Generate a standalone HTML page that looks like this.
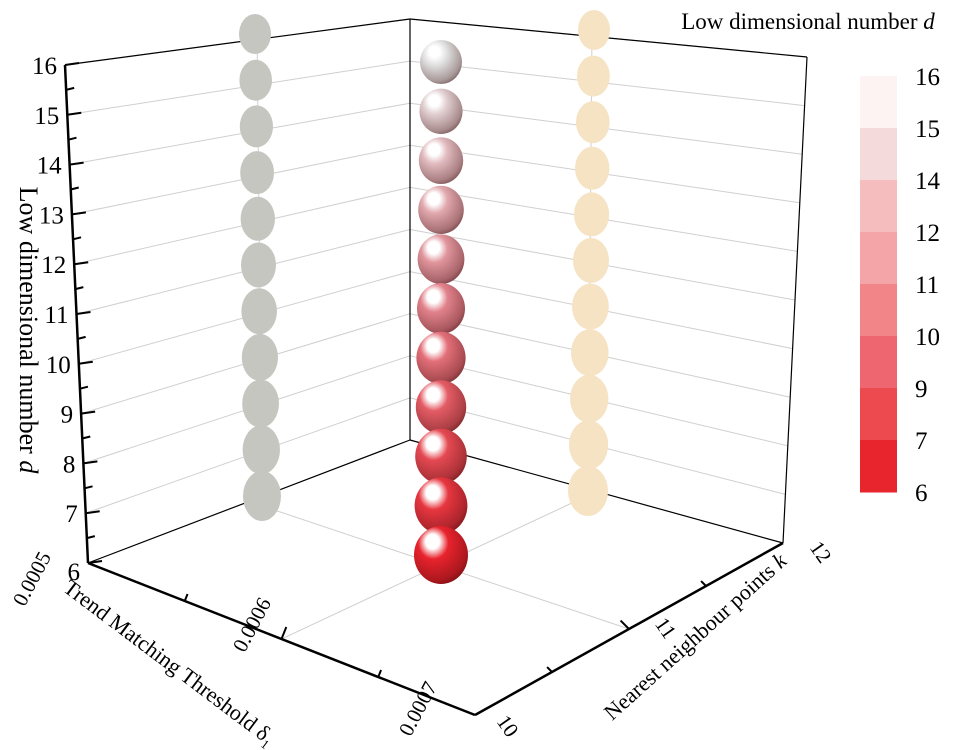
<!DOCTYPE html>
<html><head><meta charset="utf-8">
<style>
html,body{margin:0;padding:0;background:#fff;}
svg{display:block;}
svg text{font-family:"Liberation Serif",serif;}
</style></head>
<body>
<svg id="chart" width="975" height="750" viewBox="0 0 975 750" xmlns="http://www.w3.org/2000/svg" font-family="Liberation Serif, serif">
<defs>
</defs>
<g id="grid"></g>
<g id="box"></g>
<g id="proj"></g>
<g id="marks"></g>
<g id="axes"></g>
<g id="legend"></g>
</svg>
<script>
const dValues = [16,15,14,13,12,11,10,9,8,7,6];
const dTicks = [6,7,8,9,10,11,12,13,14,15,16];
const deltaTicks = ["0.0005","0.0006","0.0007"];
const kTicks = ["10","11","12"];
const legendLabels = ["16","15","14","12","11","10","9","7","6"];
const legendColors = ["#fdf3f3","#f5dadb","#f5bdbe","#f4a5a7","#f28587","#ee6670","#ec4a4f","#e8252d"];

const NS="http://www.w3.org/2000/svg";
function mk(tag,attrs,parent){const e=document.createElementNS(NS,tag);for(const k in attrs)e.setAttribute(k,attrs[k]);parent.appendChild(e);return e;}
const lerp=(a,b,t)=>a+(b-a)*t;
const tD=d=>(d-6)/10;
const leftX=d=>lerp(88,65,tD(d)), leftY=d=>lerp(563,65,tD(d));
const backX=410, backY=d=>lerp(440,19,tD(d));
const rightX=d=>lerp(783,807,tD(d)), rightY=d=>lerp(543,57,tD(d));
const PA=[88,563],PB=[475,715],PC=[783,543],PD=[410,440];

const grid=document.getElementById('grid');
dTicks.forEach(d=>{
  if(d===6)return;
  let l=mk('line',{x1:leftX(d),y1:leftY(d),x2:backX,y2:backY(d),stroke:'#cfcfcf','stroke-width':1},grid);
  
  
  let r=mk('line',{x1:backX,y1:backY(d),x2:rightX(d),y2:rightY(d),stroke:'#cfcfcf','stroke-width':1},grid);
  
  
});
const mid=(p,q)=>[(p[0]+q[0])/2,(p[1]+q[1])/2];
[[mid(PA,PB),mid(PD,PC)],[mid(PB,PC),mid(PA,PD)]].forEach(s=>{
  let l=mk('line',{x1:s[0][0],y1:s[0][1],x2:s[1][0],y2:s[1][1],stroke:'#cfcfcf','stroke-width':1},grid);
  
  
});
const box=document.getElementById('box');
[[[65,65],[410,19]],[[410,19],[807,57]],[[410,19],[410,440]],[[807,57],[783,543]],[PD,PA],[PD,PC]].forEach(s=>{
  let l=mk('line',{x1:s[0][0],y1:s[0][1],x2:s[1][0],y2:s[1][1],stroke:'#000','stroke-width':1.2},box);
  
  
});
const proj=document.getElementById('proj');
const grayY=d=>lerp(496,34,tD(d)), wheatY=d=>lerp(491,30,tD(d)), midY=d=>lerp(555,62,tD(d));
mk('line',{x1:257,y1:30,x2:262,y2:500,stroke:'#cfcfcf'},proj);
mk('line',{x1:592,y1:30,x2:588,y2:500,stroke:'#cfcfcf'},proj);
dValues.forEach(d=>{
  const s=1-tD(d);
  let g=mk('ellipse',{cx:lerp(255,262,s),cy:grayY(d),rx:16+3*s,ry:20+5*s,fill:'#c6c6c1'},proj);
  
  
  let w=mk('ellipse',{cx:lerp(594,588,s),cy:wheatY(d),rx:16+4*s,ry:20+5*s,fill:'#f6e3c4'},proj);
  
  
});
function colorFor(d){
  const t=tD(d);
  const r0=[232,35,45],r1=[225,140,148],r2=[225,225,225];
  if(t<0.55){const u=t/0.55;return r0.map((v,i)=>Math.round(lerp(v,r1[i],u)));}
  const u=(t-0.55)/0.45;return r1.map((v,i)=>Math.round(lerp(v,r2[i],u)));
}
const defsEl=document.querySelector('defs');
const marks=document.getElementById('marks');
dValues.forEach((d,i)=>{
  const c=colorFor(d);
  const gr=mk('radialGradient',{id:'sg'+i,cx:'0.4',cy:'0.35',r:'0.7',fx:'0.33',fy:'0.25'},defsEl);
  mk('stop',{offset:'0',"stop-color":'#ffffff'},gr);
  mk('stop',{offset:'0.18',"stop-color":'#ffffff'},gr);
  mk('stop',{offset:'0.4',"stop-color":`rgb(${c[0]},${c[1]},${c[2]})`},gr);
  mk('stop',{offset:'0.85',"stop-color":`rgb(${Math.round(c[0]*0.75)},${Math.round(c[1]*0.68)},${Math.round(c[2]*0.68)})`},gr);
  mk('stop',{offset:'1',"stop-color":`rgb(${Math.round(c[0]*0.55)},${Math.round(c[1]*0.45)},${Math.round(c[2]*0.45)})`},gr);
  const s=1-tD(d);
  let e=mk('ellipse',{cx:441,cy:midY(d),rx:21+6*s,ry:22+7*s,fill:`url(#sg${i})`},marks);
  
  
});
const axes=document.getElementById('axes');
mk('line',{x1:65,y1:65,x2:88,y2:563,stroke:'#000','stroke-width':2.5},axes);
mk('line',{x1:PA[0],y1:PA[1],x2:PB[0],y2:PB[1],stroke:'#000','stroke-width':2.5},axes);
mk('line',{x1:PB[0],y1:PB[1],x2:PC[0],y2:PC[1],stroke:'#000','stroke-width':2.5},axes);
for(let v=6;v<=16;v+=0.5){
  const x=leftX(v),y=leftY(v),L=(v%1===0)?14:8;
  mk('line',{x1:x,y1:y,x2:x+L,y2:y-2,stroke:'#000','stroke-width':2},axes);
}
dTicks.forEach(d=>{
  if(d===6)return;
  let t=mk('text',{x:leftX(d)-8,y:leftY(d)+9,'text-anchor':'end','font-size':25,'font-family':'Liberation Serif, serif'},axes);
  t.textContent=d;
  
  
});
let t6=mk('text',{x:80,y:580,'text-anchor':'end','font-size':25,'font-family':'Liberation Serif, serif'},axes);t6.textContent='6';
for(let i=1;i<4;i++){
  const p=[lerp(PA[0],PB[0],i/4),lerp(PA[1],PB[1],i/4)],L=i%2?7:12;
  mk('line',{x1:p[0],y1:p[1],x2:p[0]+L*0.4,y2:p[1]-L,stroke:'#000','stroke-width':2},axes);
  const q=[lerp(PB[0],PC[0],i/4),lerp(PB[1],PC[1],i/4)];
  mk('line',{x1:q[0],y1:q[1],x2:q[0]-L*0.7,y2:q[1]-L*0.7,stroke:'#000','stroke-width':2},axes);
}
const dPos=[[38,582],[258,628],[424,712]];
deltaTicks.forEach((s,i)=>{
  let t=mk('text',{x:dPos[i][0],y:dPos[i][1],'text-anchor':'middle','font-size':21,'font-family':'Liberation Serif, serif',transform:`rotate(-62 ${dPos[i][0]} ${dPos[i][1]})`},axes);
  t.textContent=s;
  
  
});
const kPos=[[502,730],[660,632],[815,556]];
kTicks.forEach((s,i)=>{
  let t=mk('text',{x:kPos[i][0],y:kPos[i][1],'text-anchor':'middle','font-size':21,'font-family':'Liberation Serif, serif',transform:`rotate(55 ${kPos[i][0]} ${kPos[i][1]})`},axes);
  t.textContent=s;
  
  
});
function title(txt,x,y,rot,size,name,italicPart){
  const t=mk('text',{x:x,y:y,'text-anchor':'middle','font-size':size,'font-family':'Liberation Serif, serif',transform:`rotate(${rot} ${x} ${y})`},axes);
  t.textContent=txt;
  if(italicPart){const ts=mk('tspan',{'font-style':'italic'},t);ts.textContent=italicPart;}
  
  
  return t;
}
title('Low dimensional number ',20,330,90,26,'y-axis-title','d');
const tx=title('Trend Matching Threshold δ',165,668,37,22,'x-axis-title');
const sub=mk('tspan',{'font-size':13,dy:5},tx);sub.textContent='1';
title('Nearest neighbour points ',700,642,-42,22,'k-axis-title','k');
const lg=document.getElementById('legend');
let lt=mk('text',{x:808,y:29,'text-anchor':'middle','font-size':23,'font-family':'Liberation Serif, serif'},lg);
lt.textContent='Low dimensional number ';


const lti=mk('tspan',{'font-style':'italic'},lt);lti.textContent='d';
const legTop=76,legBot=492,legH=(legBot-legTop)/legendColors.length;
legendColors.forEach((c,i)=>{
  let r=mk('rect',{x:860,y:legTop+i*legH,width:37,height:legH+0.5,fill:c},lg);
  
  
});
legendLabels.forEach((s,i)=>{
  let t=mk('text',{x:915,y:legTop+i*legH+9,'font-size':25,'font-family':'Liberation Serif, serif'},lg);
  t.textContent=s;
  
  
});
</script>
</body></html>
